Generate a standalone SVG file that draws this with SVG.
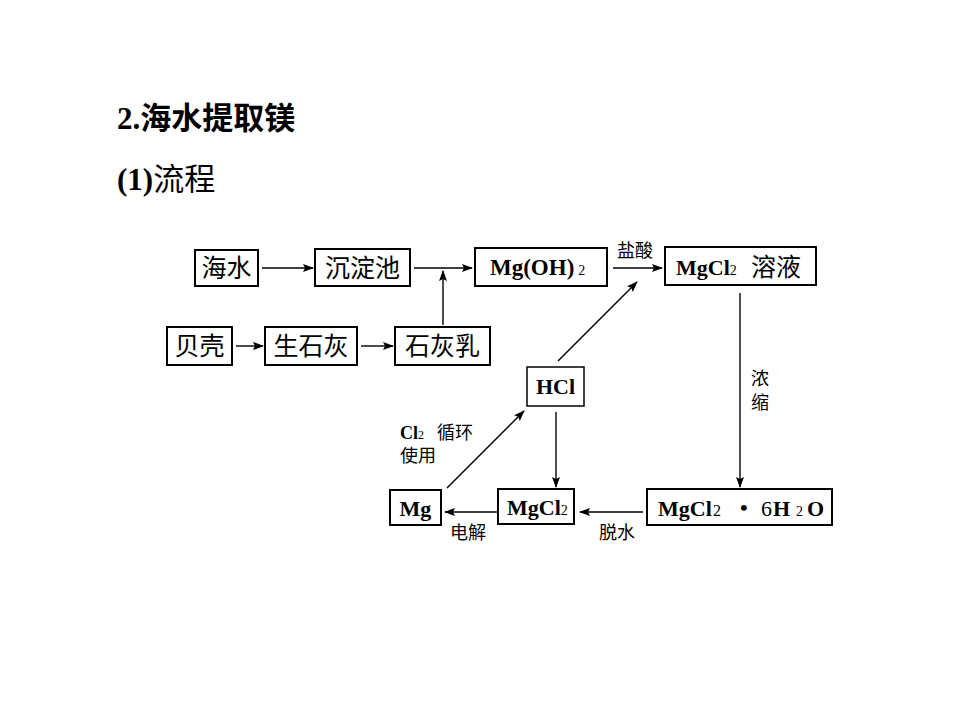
<svg xmlns="http://www.w3.org/2000/svg" width="960" height="720" viewBox="0 0 960 720">
<style>
.box{fill:#fff;stroke:#000;stroke-width:2}
.t{font-family:"Liberation Serif","Noto Sans CJK SC",serif;font-size:22px;fill:#000}
.c{font-size:25px}
.b{font-weight:bold}
.lab{font-family:"Liberation Serif","Noto Sans CJK SC",serif;font-size:18px;fill:#000}
.ln{stroke:#000;stroke-width:1.4;fill:none;marker-end:url(#ah)}
.sub{font-size:14px;font-weight:normal}
</style>
<defs>
<marker id="ah" markerUnits="userSpaceOnUse" markerWidth="11" markerHeight="8" refX="10" refY="4" orient="auto">
<path d="M0,0 L11,4 L0,8 L2,4 Z" fill="#000"/>
</marker>
</defs>
<rect width="960" height="720" fill="#fff"/>
<text x="117" y="129" class="t b" style="font-size:31px">2.海水提取镁</text>
<text x="117" y="190" class="t" style="font-size:31px"><tspan font-weight="bold">(1)</tspan>流程</text>

<g id="connectors">
<line class="ln" x1="262" y1="268" x2="313" y2="268"/>
<line class="ln" x1="414" y1="268" x2="472" y2="268"/>
<line class="ln" x1="443" y1="325" x2="443" y2="271"/>
<line class="ln" x1="613" y1="268" x2="662" y2="268"/>
<line class="ln" x1="236" y1="346" x2="263" y2="346"/>
<line class="ln" x1="361" y1="346" x2="393" y2="346"/>
<line class="ln" x1="558" y1="361" x2="637" y2="282"/>
<line class="ln" x1="740" y1="293" x2="740" y2="487"/>
<line class="ln" x1="556" y1="412" x2="556" y2="487"/>
<line class="ln" x1="643" y1="512" x2="580" y2="512"/>
<line class="ln" x1="497" y1="512" x2="445" y2="512"/>
<line class="ln" x1="447" y1="488" x2="524" y2="411"/>
</g>

<g id="n-haishui"><rect class="box" x="195" y="250" width="63" height="36"/><text class="t c" x="226.5" y="277" text-anchor="middle">海水</text></g>
<g id="n-chendianchi"><rect class="box" x="315" y="249" width="95" height="37"/><text class="t c" x="362.5" y="277" text-anchor="middle">沉淀池</text></g>
<g id="n-mgoh2"><rect class="box" x="475" y="248" width="132" height="38"/><text class="t b" x="490" y="275" style="font-size:23px">Mg(OH)<tspan class="sub" dx="4">2</tspan></text></g>
<g id="n-mgcl2sol"><rect class="box" x="665" y="247" width="151" height="38"/><text class="t" x="676" y="275"><tspan font-weight="bold">MgCl</tspan><tspan class="sub">2</tspan></text><text class="t c" x="751" y="276">溶液</text></g>
<g id="n-beike"><rect class="box" x="167" y="327" width="65" height="38"/><text class="t c" x="199.5" y="355" text-anchor="middle">贝壳</text></g>
<g id="n-shenghui"><rect class="box" x="265" y="327" width="92" height="38"/><text class="t c" x="311" y="355" text-anchor="middle">生石灰</text></g>
<g id="n-shihuiru"><rect class="box" x="395" y="327" width="95" height="38"/><text class="t c" x="442.5" y="355" text-anchor="middle">石灰乳</text></g>
<g id="n-hcl"><rect class="box" x="527" y="367" width="57" height="39" style="stroke-width:1.5"/><text class="t b" x="555.5" y="394" text-anchor="middle">HCl</text></g>
<g id="n-mg"><rect class="box" x="390" y="490" width="51" height="35"/><text class="t b" x="415.5" y="516" text-anchor="middle">Mg</text></g>
<g id="n-mgcl2"><rect class="box" x="498" y="489" width="76" height="35"/><text class="t" x="507" y="515"><tspan font-weight="bold">MgCl</tspan><tspan class="sub" font-size="16px">2</tspan></text></g>
<g id="n-hydrate"><rect class="box" x="647" y="489" width="185" height="36"/>
<text class="t b" x="658" y="516">MgCl</text>
<text class="t" x="713" y="516" style="font-size:16px">2</text>
<text class="t b" x="740" y="515">•</text>
<text class="t" x="761" y="516">6</text>
<text class="t b" x="773" y="516">H</text>
<text class="t" x="796" y="516" style="font-size:14px">2</text>
<text class="t b" x="807" y="516">O</text>
</g>

<g id="labels">
<text class="lab" x="617" y="257">盐酸</text>
<text class="lab" x="751" y="385">浓</text>
<text class="lab" x="751" y="409">缩</text>
<text class="lab" x="400" y="439"><tspan font-weight="bold">Cl</tspan><tspan font-size="12">2</tspan></text>
<text class="lab" x="437" y="439">循环</text>
<text class="lab" x="400" y="462">使用</text>
<text class="lab" x="450" y="539">电解</text>
<text class="lab" x="599" y="539">脱水</text>
</g>
</svg>
